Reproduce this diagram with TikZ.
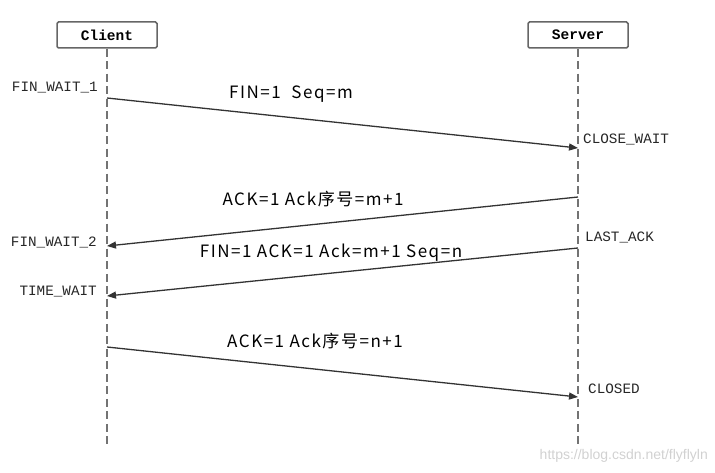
\documentclass[tikz,border=0pt]{standalone}
\usepackage{fontspec}
\setmainfont{Liberation Sans}
\newfontfamily\cjkfont[LetterSpace=9]{Noto Sans CJK SC}
\newfontfamily\monofont{Liberation Mono}
\usetikzlibrary{arrows.meta}

\begin{document}
\begin{tikzpicture}[x=1pt,y=-1pt,
  lifebox/.style={draw=black!60, line width=1.5pt, rounded corners=1.5pt, minimum width=100pt, minimum height=26pt, inner sep=0pt, font=\monofont\bfseries\fontsize{14.5}{16}\selectfont},
  lifeline/.style={draw=black!55, line width=2.5pt, dash pattern=on 8pt off 4.5pt},
  msg/.style={draw=black!80, line width=1.3pt, -{Triangle[length=9pt,width=7pt]}},
  msglabel/.style={font=\cjkfont\fontsize{17}{19}\selectfont, text=black, inner sep=0pt, text height=12pt, text depth=0pt},
  statelabel/.style={font=\monofont\fontsize{14.3}{16}\selectfont, inner sep=0pt, text=black!85, text height=10pt, text depth=0pt}]
\useasboundingbox (0,0) rectangle (715,473);
\node[lifebox] (client) at (107,35) {Client};
\node[lifebox] (server) at (578,35) {Server};
\coordinate (cend) at (107,446);
\coordinate (send) at (578,446);
\draw[lifeline] (client.south) -- (cend);
\draw[lifeline] (server.south) -- (send);

\coordinate (c1) at (107,98);
\coordinate (s1) at (578,148);
\coordinate (s2) at (578,197);
\coordinate (c2) at (107,246);
\coordinate (s3) at (578,248);
\coordinate (c3) at (107,296);
\coordinate (c4) at (107,347);
\coordinate (s4) at (578,397);

\draw[msg] (c1) -- (s1);
\draw[msg] (s2) -- (c2);
\draw[msg] (s3) -- (c3);
\draw[msg] (c4) -- (s4);

\node[msglabel] (l1) at (291,93) {FIN=1\ \ Seq=m};
\node[msglabel] (l2) at (313,200) {ACK=1 Ack序号=m+1};
\node[msglabel] (l3) at (331,252) {FIN=1 ACK=1 Ack=m+1 Seq=n};
\node[msglabel] (l4) at (315,341) {ACK=1 Ack序号=n+1};

\node[statelabel, anchor=east] (fw1) at (98,87) {FIN\_WAIT\_1};
\node[statelabel, anchor=west] (cw) at (583,139) {CLOSE\_WAIT};
\node[statelabel, anchor=east] (fw2) at (97,242) {FIN\_WAIT\_2};
\node[statelabel, anchor=west] (la) at (585,237) {LAST\_ACK};
\node[statelabel, anchor=east] (tw) at (97,290) {TIME\_WAIT};
\node[statelabel, anchor=west] (cl) at (588,388) {CLOSED};

\node[font=\fontsize{14}{16}\selectfont, text=black!18, anchor=east, inner sep=0pt] (wm) at (708,456) {https://blog.csdn.net/flyflyln};
\end{tikzpicture}
\end{document}
